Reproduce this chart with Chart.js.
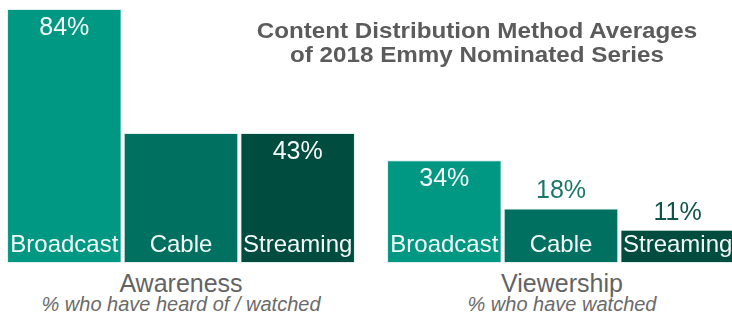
<!DOCTYPE html>
<html>
<head>
<meta charset="utf-8">
<script src="https://cdn.jsdelivr.net/npm/chart.js@4/dist/chart.umd.min.js"></script>
<style>
  html, body { margin: 0; padding: 0; background: #fff; width: 732px; height: 315px; overflow: hidden; position: relative; }
  canvas { position: absolute; top: 0; }
  #c1 { left: 6px; }
  #c2 { left: 386px; }
  .txt { position: absolute; white-space: nowrap; font-family: "Liberation Sans", Arial, sans-serif; text-align: center; }
  #title { left: 477px; top: 19px; font-size: 22px; line-height: 24px; font-weight: bold; color: #5b5b5b; transform: translateX(-50%) scaleX(1.1); }
  .gt { font-size: 25px; line-height: 28px; color: #636363; top: 269px; transform: translateX(-50%); }
  .gs { font-size: 20px; line-height: 22px; font-style: italic; color: #6a6a6a; top: 293px; transform: translateX(-50%); }
</style>
</head>
<body>
<canvas id="c1" width="350" height="263"></canvas>
<canvas id="c2" width="350" height="263"></canvas>
<div id="title" class="txt"></div>
<div id="gt1" class="txt gt" style="left:181px"></div>
<div id="gs1" class="txt gs" style="left:181px"></div>
<div id="gt2" class="txt gt" style="left:562px"></div>
<div id="gs2" class="txt gs" style="left:562px"></div>
<script>
const categories = ['Broadcast', 'Cable', 'Streaming'];
const awarenessValues = [84, 43, 43];
const awarenessLabels = ['84%', '', '43%'];
const viewershipValues = [34, 18, 11];
const viewershipLabels = ['34%', '18%', '11%'];
const groupTitles = ['Awareness', 'Viewership'];
const groupSubtitles = ['% who have heard of / watched', '% who have watched'];
const chartTitle = ['Content Distribution Method Averages', 'of 2018 Emmy Nominated Series'];
const barColors = ['#009882', '#007060', '#004d40'];
const outsideLabelColors = ['#00806d', '#1b7767', '#0f5547'];

document.getElementById('title').innerHTML = chartTitle.join('<br>');
document.getElementById('gt1').textContent = groupTitles[0];
document.getElementById('gs1').textContent = groupSubtitles[0];
document.getElementById('gt2').textContent = groupTitles[1];
document.getElementById('gs2').textContent = groupSubtitles[1];

const FONT = '"Liberation Sans", Arial, sans-serif';

const labelPlugin = {
  id: 'barLabels',
  afterDatasetsDraw(chart) {
    const ctx = chart.ctx;
    const meta = chart.getDatasetMeta(0);
    const ds = chart.data.datasets[0];
    const valueLabels = chart.options.plugins.barLabels.valueLabels;
    ctx.save();
    ctx.textAlign = 'center';
    ctx.textBaseline = 'middle';
    meta.data.forEach((bar, i) => {
      const p = bar.getProps(['x', 'y', 'base'], true);
      // category label inside bar bottom
      ctx.font = '24px ' + FONT;
      ctx.fillStyle = '#f4f9f8';
      ctx.fillText(chart.data.labels[i], p.x, p.base - 18);
      const vl = valueLabels[i];
      if (vl) {
        ctx.font = '25px ' + FONT;
        if (ds.data[i] >= 30) {
          ctx.fillStyle = '#f4f9f8';
          ctx.fillText(vl, p.x, p.y + 19);
        } else {
          ctx.fillStyle = outsideLabelColors[i];
          ctx.fillText(vl, p.x, p.y - 17);
        }
      }
    });
    ctx.restore();
  }
};

function makeChart(id, values, labels) {
  return new Chart(document.getElementById(id), {
    type: 'bar',
    data: {
      labels: categories,
      datasets: [{
        data: values,
        backgroundColor: barColors,
        borderColor: 'rgba(220,238,234,0.9)',
        borderWidth: 1,
        borderSkipped: false,
        barPercentage: 0.982,
        categoryPercentage: 1.0
      }]
    },
    options: {
      responsive: false,
      animation: false,
      devicePixelRatio: 1,
      layout: { padding: 0 },
      scales: {
        x: { display: false },
        y: { display: false, min: 0, max: 87 }
      },
      plugins: {
        legend: { display: false },
        tooltip: { enabled: false },
        barLabels: { valueLabels: labels }
      }
    },
    plugins: [labelPlugin]
  });
}

makeChart('c1', awarenessValues, awarenessLabels);
makeChart('c2', viewershipValues, viewershipLabels);
</script>
</body>
</html>
